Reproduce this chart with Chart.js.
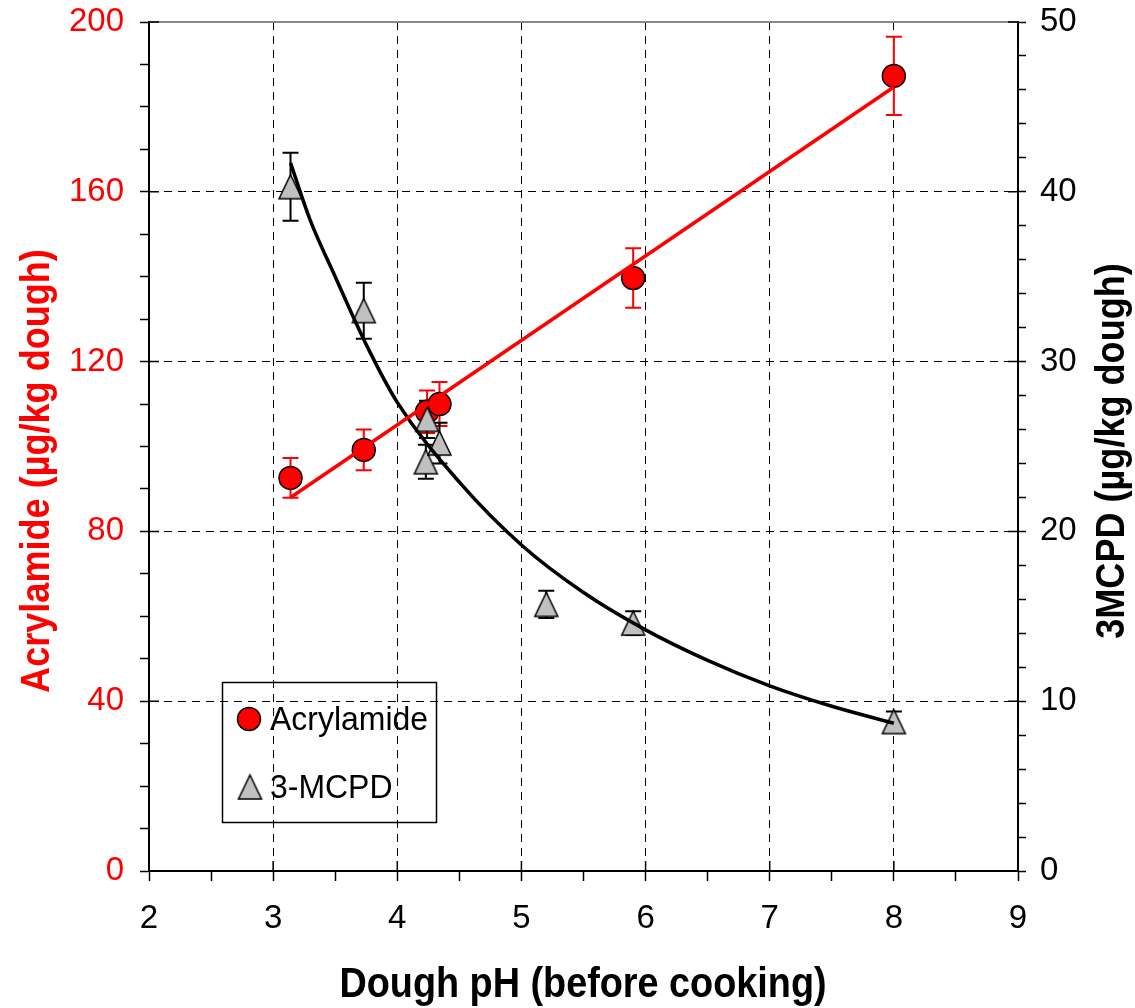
<!DOCTYPE html>
<html>
<head>
<meta charset="utf-8">
<title>Acrylamide and 3-MCPD vs dough pH</title>
<script src="https://cdn.jsdelivr.net/npm/chart.js@4.4.1/dist/chart.umd.min.js"></script>
<style>
  html, body { margin: 0; padding: 0; background: #fff; }
  canvas { display: block; }
</style>
</head>
<body>
<canvas id="chart" width="1135" height="1008"></canvas>
<script>
// measured points (mean with +/- error)
const phAcryl = [3.14, 3.73, 4.24, 4.34, 5.9, 8.0];
const acrylamide = [92.6, 99.2, 108.2, 110.0, 139.7, 187.3];
const acrylamideErr = [4.7, 4.8, 5.0, 5.2, 7.0, 9.2];

const phMcpd = [3.14, 3.73, 4.24, 4.23, 4.34, 5.2, 5.9, 8.0];
const mcpd = [40.3, 33.0, 26.6, 24.1, 25.2, 15.7, 14.6, 8.8];
const mcpdErr = [2.0, 1.65, 1.1, 1.0, 1.2, 0.8, 0.7, 0.6];

// fitted trend lines
const acrylFitPh = [3.14, 8.0];
const acrylFit = [88.0, 184.7];
const mcpdFitPh = [3.14, 3.3, 3.5, 3.75, 4.0, 4.5, 5.0, 5.5, 6.0, 6.5, 7.0, 7.5, 8.0];
const mcpdFit = [41.7, 38.3, 35.0, 31.0, 27.6, 22.9, 19.2, 16.4, 14.2, 12.4, 10.9, 9.7, 8.7];

// labelled ticks
const phTicks = [2, 3, 4, 5, 6, 7, 8, 9];
const acrylTicks = [0, 40, 80, 120, 160, 200];
const mcpdTicks = [0, 10, 20, 30, 40, 50];

const FONT = "'Liberation Sans', Arial, sans-serif";

const pts = (xs, ys) => xs.map((x, i) => ({ x: x, y: ys[i] }));

// grey triangle marker, a bit taller than equilateral
function triangleMarker(w, h) {
  const c = document.createElement('canvas');
  c.width = w + 4;
  c.height = h + 4;
  const g = c.getContext('2d');
  g.beginPath();
  g.moveTo(c.width / 2, 2);
  g.lineTo(w + 2, h + 2);
  g.lineTo(2, h + 2);
  g.closePath();
  g.fillStyle = '#c0c0c0';
  g.fill();
  g.lineWidth = 1.5;
  g.strokeStyle = '#000';
  g.stroke();
  return c;
}
const tri = triangleMarker(23, 24);

function squeezedText(ctx, text, x, y, angle, size, weight, color, squeeze) {
  ctx.save();
  ctx.translate(x, y);
  ctx.rotate(angle);
  ctx.scale(squeeze, 1);
  ctx.font = weight + ' ' + size + 'px ' + FONT;
  ctx.fillStyle = color;
  ctx.textAlign = 'center';
  ctx.textBaseline = 'alphabetic';
  ctx.fillText(text, 0, 0);
  ctx.restore();
}

const errorBars = {
  id: 'errorBars',
  beforeDatasetsDraw(chart) {
    const ctx = chart.ctx;
    chart.data.datasets.forEach((ds, i) => {
      if (!ds.errors) return;
      const meta = chart.getDatasetMeta(i);
      const ys = chart.scales[meta.yAxisID];
      ctx.save();
      ctx.strokeStyle = ds.errorColor;
      ctx.lineWidth = 2;
      meta.data.forEach((pt, j) => {
        const v = ds.data[j].y, e = ds.errors[j];
        const top = ys.getPixelForValue(v + e);
        const bot = ys.getPixelForValue(v - e);
        ctx.beginPath();
        ctx.moveTo(pt.x, top); ctx.lineTo(pt.x, bot);
        ctx.moveTo(pt.x - 8, top); ctx.lineTo(pt.x + 8, top);
        ctx.moveTo(pt.x - 8, bot); ctx.lineTo(pt.x + 8, bot);
        ctx.stroke();
      });
      ctx.restore();
    });
  }
};

const frame = {
  id: 'frame',
  afterDraw(chart) {
    const { ctx, chartArea: a, scales } = chart;
    ctx.save();
    ctx.strokeStyle = '#888';
    ctx.lineWidth = 2;
    ctx.beginPath();
    ctx.moveTo(a.left, a.top);
    ctx.lineTo(a.right, a.top);
    ctx.stroke();

    // inner half of the major ticks
    ctx.strokeStyle = '#000';
    ctx.lineWidth = 1.5;
    ctx.beginPath();
    phTicks.forEach(v => {
      const p = scales.x.getPixelForValue(v);
      ctx.moveTo(p, a.bottom); ctx.lineTo(p, a.bottom - 10);
    });
    acrylTicks.forEach(v => {
      const p = scales.y.getPixelForValue(v);
      ctx.moveTo(a.left, p); ctx.lineTo(a.left + 10, p);
    });
    mcpdTicks.forEach(v => {
      const p = scales.y2.getPixelForValue(v);
      ctx.moveTo(a.right, p); ctx.lineTo(a.right - 10, p);
    });
    ctx.stroke();

    // axis titles
    squeezedText(ctx, 'Acrylamide (µg/kg dough)', 49, 471, -Math.PI / 2, 41, 'bold', '#ff0000', 0.88);
    squeezedText(ctx, '3MCPD (µg/kg dough)', 1124, 451, -Math.PI / 2, 41, 'bold', '#000', 0.88);
    squeezedText(ctx, 'Dough pH (before cooking)', 583, 997, 0, 42, 'bold', '#000', 0.9);

    // legend box
    ctx.lineWidth = 1.5;
    ctx.strokeStyle = '#000';
    ctx.strokeRect(222.5, 682.5, 214, 140);
    ctx.beginPath();
    ctx.arc(249, 719, 11.5, 0, Math.PI * 2);
    ctx.fillStyle = '#ff0000';
    ctx.fill();
    ctx.stroke();
    ctx.drawImage(tri, 250 - tri.width / 2, 787 - tri.height / 2);
    ctx.restore();
    ctx.save();
    ctx.textAlign = 'left';
    ctx.fillStyle = '#000';
    ctx.translate(270, 730);
    ctx.scale(0.94, 1);
    ctx.font = '34px ' + FONT;
    ctx.fillText('Acrylamide', 0, 0);
    ctx.fillText('3-MCPD', 0, 68);
    ctx.restore();
  }
};

const dash = [8, 6];
const tickFont = { family: FONT, size: 33 };

// fixed axis sizes so the plot box lands at 149..1018 x 22..871
function fixWidth(w) {
  return s => { s.width = w; s.paddingTop = 0; s.paddingBottom = 0; };
}

new Chart(document.getElementById('chart'), {
  type: 'scatter',
  data: {
    datasets: [
      {
        type: 'line',
        data: pts(acrylFitPh, acrylFit),
        yAxisID: 'y',
        borderColor: '#ff0000',
        borderWidth: 3.5,
        pointRadius: 0,
        order: 0
      },
      {
        type: 'line',
        data: pts(mcpdFitPh, mcpdFit),
        yAxisID: 'y2',
        borderColor: '#000',
        borderWidth: 3.5,
        pointRadius: 0,
        cubicInterpolationMode: 'monotone',
        order: 0
      },
      {
        label: 'Acrylamide',
        data: pts(phAcryl, acrylamide),
        errors: acrylamideErr,
        errorColor: '#ff0000',
        yAxisID: 'y',
        pointRadius: 11.5,
        backgroundColor: '#ff0000',
        borderColor: '#000',
        borderWidth: 1.5,
        order: 2
      },
      {
        label: '3-MCPD',
        data: pts(phMcpd, mcpd),
        errors: mcpdErr,
        errorColor: '#000',
        yAxisID: 'y2',
        pointStyle: tri,
        order: 1
      }
    ]
  },
  options: {
    responsive: false,
    devicePixelRatio: 1,
    animation: false,
    layout: { padding: { top: 22, left: 0, right: 0, bottom: 0 } },
    plugins: { legend: { display: false }, tooltip: { enabled: false } },
    scales: {
      x: {
        type: 'linear',
        min: 2, max: 9,
        afterFit: s => { s.height = 137; s.paddingLeft = 0; s.paddingRight = 0; },
        ticks: {
          stepSize: 0.5,
          autoSkip: false,
          maxRotation: 0,
          padding: 18,
          color: '#000',
          font: tickFont,
          callback: v => phTicks.includes(v) ? v : ''
        },
        grid: {
          color: c => (c.tick && Number.isInteger(c.tick.value) && c.tick.value > 2 && c.tick.value < 9) ? '#000' : 'rgba(0,0,0,0)',
          lineWidth: 1,
          tickColor: '#000',
          tickWidth: 1.5,
          tickLength: 10
        },
        border: { display: true, color: '#000', width: 2, dash: dash }
      },
      y: {
        position: 'left',
        min: 0, max: 200,
        afterFit: fixWidth(149),
        ticks: {
          stepSize: 10,
          autoSkip: false,
          padding: 16,
          color: '#ff0000',
          font: tickFont,
          callback: v => acrylTicks.includes(v) ? v : ''
        },
        grid: {
          color: c => (c.tick && c.tick.value % 40 === 0 && c.tick.value > 0 && c.tick.value < 200) ? '#000' : 'rgba(0,0,0,0)',
          lineWidth: 1,
          tickColor: '#000',
          tickWidth: 1.5,
          tickLength: 9
        },
        border: { display: true, color: '#000', width: 2, dash: dash }
      },
      y2: {
        position: 'right',
        min: 0, max: 50,
        afterFit: fixWidth(117),
        ticks: {
          stepSize: 2,
          autoSkip: false,
          padding: 14,
          color: '#000',
          font: tickFont,
          callback: v => mcpdTicks.includes(v) ? v : ''
        },
        grid: {
          drawOnChartArea: false,
          tickColor: '#000',
          tickWidth: 1.5,
          tickLength: 8
        },
        border: { display: true, color: '#000', width: 2 }
      }
    }
  },
  plugins: [errorBars, frame]
});
</script>
</body>
</html>
